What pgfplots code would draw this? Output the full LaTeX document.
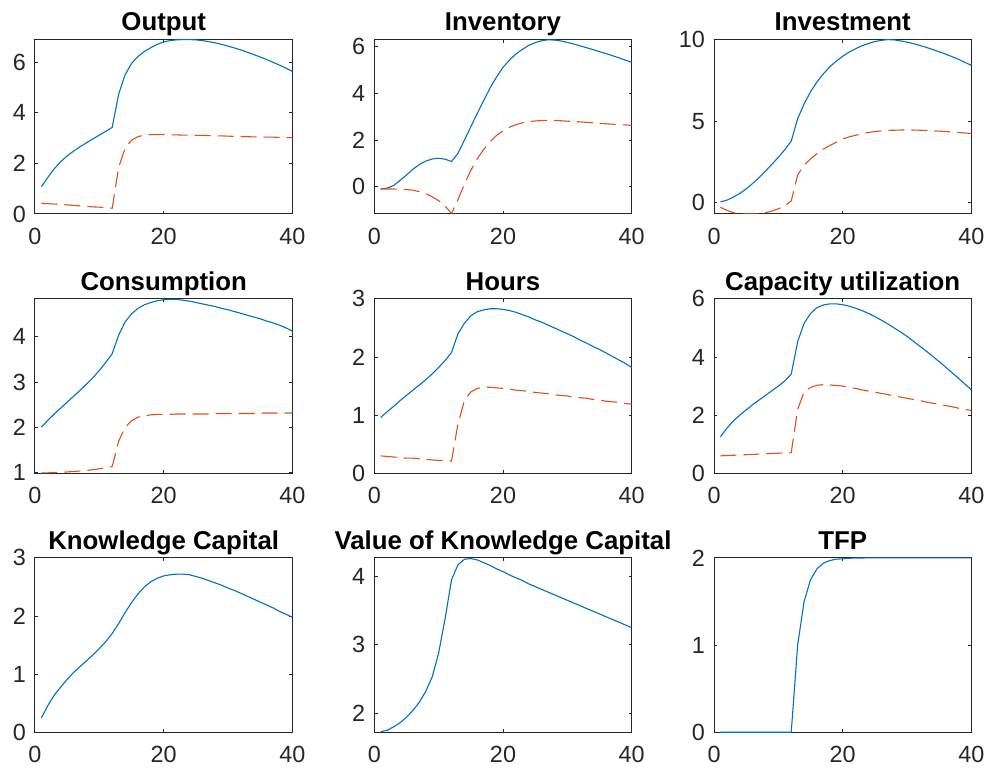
\documentclass[border=0pt]{standalone}
\usepackage{fontspec}
\setmainfont{Liberation Sans}
\usepackage{pgfplots}
\pgfplotsset{compat=1.18}
\definecolor{mblue}{rgb}{0,0.447,0.741}
\definecolor{mred}{rgb}{0.85,0.325,0.098}
\pgfplotsset{
  myax/.style={
    scale only axis, width=128.7pt, height=87.2pt, anchor=south west,
    xmin=0, xmax=40, xtick={0,20,40}, tick align=inside,
    axis line style={black!85, line width=0.5pt},
    tick style={black!85, line width=0.5pt},
    major tick length=1.6pt, minor tick num=0,
    ticklabel style={font=\fontsize{11.7}{13}\selectfont, text=black!85},
    xticklabel style={yshift=-3.5pt},
    yticklabel style={xshift=-1pt},
    title style={font=\bfseries\fontsize{12.9}{15}\selectfont, anchor=base, at={(0.5,1)}, yshift=-1.7pt},
    /pgf/number format/assume math mode=true,
    scaled y ticks=false,
  },
  bl/.style={mblue, line width=0.55pt, no marks},
  rd/.style={mred, line width=0.55pt, no marks, dash pattern=on 8pt off 3.5pt},
}
\begin{document}
\begin{tikzpicture}
\path[use as bounding box] (0,0) rectangle (494.5pt,387.5pt);
% Output
\begin{axis}[myax, at={(17.5pt,280.5pt)}, title={Output}, ymin=0, ymax=6.9, ytick={0,2,4,6}]
\addplot[bl] coordinates {(1,1.08)(2,1.45)(3,1.79)(4,2.07)(5,2.3)(6,2.49)(7,2.66)(8,2.82)(9,2.97)(10,3.12)(11,3.27)(12,3.43)(13,4.74)(14,5.5)(15,5.96)(16,6.23)(17,6.43)(18,6.58)(19,6.71)(20,6.81)(21,6.86)(22,6.89)(23,6.9)(24,6.9)(25,6.89)(26,6.86)(27,6.82)(28,6.77)(29,6.71)(30,6.64)(31,6.57)(32,6.49)(33,6.40)(34,6.31)(35,6.21)(36,6.11)(37,6.00)(38,5.89)(39,5.77)(40,5.64)};
\addplot[rd] coordinates {(1,0.42)(2,0.41)(3,0.39)(4,0.38)(5,0.36)(6,0.34)(7,0.32)(8,0.30)(9,0.28)(10,0.27)(11,0.25)(12,0.23)(13,1.85)(14,2.6)(15,2.92)(16,3.06)(17,3.12)(18,3.14)(19,3.14)(20,3.14)(21,3.13)(22,3.13)(23,3.12)(24,3.12)(25,3.11)(26,3.11)(27,3.1)(28,3.09)(29,3.09)(30,3.08)(31,3.07)(32,3.07)(33,3.06)(34,3.05)(35,3.05)(36,3.04)(37,3.04)(38,3.03)(39,3.02)(40,3.02)};
\end{axis}
% Inventory
\begin{axis}[myax, at={(187.15pt,280.5pt)}, title={Inventory}, ymin=-1.17, ymax=6.31, ytick={0,2,4,6}]
\addplot[bl] coordinates {(1,-0.1)(2,-0.06)(3,0.05)(4,0.27)(5,0.5)(6,0.75)(7,0.95)(8,1.1)(9,1.19)(10,1.22)(11,1.18)(12,1.08)(13,1.43)(14,2.0)(15,2.57)(16,3.14)(17,3.7)(18,4.24)(19,4.71)(20,5.12)(21,5.43)(22,5.69)(23,5.89)(24,6.06)(25,6.18)(26,6.26)(27,6.3)(28,6.29)(29,6.25)(30,6.19)(31,6.12)(32,6.04)(33,5.96)(34,5.88)(35,5.79)(36,5.71)(37,5.62)(38,5.53)(39,5.43)(40,5.33)};
\addplot[rd] coordinates {(1,-0.1)(2,-0.1)(3,-0.1)(4,-0.11)(5,-0.12)(6,-0.15)(7,-0.21)(8,-0.3)(9,-0.43)(10,-0.6)(11,-0.83)(12,-1.15)(13,-0.55)(14,0.1)(15,0.7)(16,1.2)(17,1.6)(18,1.93)(19,2.2)(20,2.4)(21,2.55)(22,2.66)(23,2.74)(24,2.79)(25,2.82)(26,2.84)(27,2.84)(28,2.84)(29,2.83)(30,2.81)(31,2.8)(32,2.78)(33,2.76)(34,2.74)(35,2.72)(36,2.7)(37,2.68)(38,2.66)(39,2.65)(40,2.63)};
\end{axis}
% Investment
\begin{axis}[myax, at={(357pt,280.5pt)}, title={Investment}, ymin=-0.70, ymax=10.0, ytick={0,5,10}]
\addplot[bl] coordinates {(1,0.04)(2,0.15)(3,0.33)(4,0.56)(5,0.84)(6,1.17)(7,1.53)(8,1.93)(9,2.35)(10,2.78)(11,3.25)(12,3.77)(13,5.15)(14,6.05)(15,6.8)(16,7.4)(17,7.9)(18,8.33)(19,8.68)(20,8.98)(21,9.23)(22,9.44)(23,9.62)(24,9.76)(25,9.88)(26,9.95)(27,10.0)(28,9.98)(29,9.92)(30,9.84)(31,9.75)(32,9.64)(33,9.52)(34,9.39)(35,9.25)(36,9.11)(37,8.95)(38,8.79)(39,8.6)(40,8.42)};
\addplot[rd] coordinates {(1,-0.29)(2,-0.48)(3,-0.62)(4,-0.69)(5,-0.70)(6,-0.70)(7,-0.69)(8,-0.62)(9,-0.52)(10,-0.38)(11,-0.2)(12,0.1)(13,1.7)(14,2.3)(15,2.68)(16,3.0)(17,3.28)(18,3.5)(19,3.7)(20,3.9)(21,4.03)(22,4.13)(23,4.22)(24,4.3)(25,4.36)(26,4.4)(27,4.43)(28,4.44)(29,4.45)(30,4.45)(31,4.45)(32,4.44)(33,4.42)(34,4.4)(35,4.38)(36,4.36)(37,4.33)(38,4.3)(39,4.27)(40,4.24)};
\end{axis}
% Consumption
\begin{axis}[myax, at={(17.5pt,150.85pt)}, title={Consumption}, ymin=0.99, ymax=4.84, ytick={1,2,3,4}]
\addplot[bl] coordinates {(1,2.01)(2,2.16)(3,2.30)(4,2.43)(5,2.56)(6,2.69)(7,2.82)(8,2.96)(9,3.1)(10,3.26)(11,3.44)(12,3.63)(13,4.04)(14,4.33)(15,4.51)(16,4.63)(17,4.71)(18,4.76)(19,4.80)(20,4.82)(21,4.83)(22,4.83)(23,4.81)(24,4.79)(25,4.76)(26,4.73)(27,4.7)(28,4.67)(29,4.63)(30,4.6)(31,4.56)(32,4.52)(33,4.48)(34,4.44)(35,4.4)(36,4.35)(37,4.31)(38,4.26)(39,4.2)(40,4.13)};
\addplot[rd] coordinates {(1,1.0)(2,1.0)(3,1.01)(4,1.01)(5,1.02)(6,1.03)(7,1.04)(8,1.05)(9,1.07)(10,1.09)(11,1.11)(12,1.14)(13,1.7)(14,2.0)(15,2.15)(16,2.23)(17,2.26)(18,2.28)(19,2.29)(20,2.29)(21,2.29)(22,2.30)(23,2.30)(24,2.30)(25,2.30)(26,2.30)(27,2.30)(28,2.31)(29,2.31)(30,2.31)(31,2.31)(32,2.31)(33,2.31)(34,2.31)(35,2.32)(36,2.32)(37,2.32)(38,2.32)(39,2.32)(40,2.32)};
\end{axis}
% Hours
\begin{axis}[myax, at={(187.15pt,150.85pt)}, title={Hours}, ymin=0, ymax=3, ytick={0,1,2,3}]
\addplot[bl] coordinates {(1,0.96)(2,1.06)(3,1.15)(4,1.25)(5,1.34)(6,1.43)(7,1.52)(8,1.61)(9,1.71)(10,1.82)(11,1.94)(12,2.08)(13,2.4)(14,2.58)(15,2.71)(16,2.78)(17,2.81)(18,2.83)(19,2.83)(20,2.82)(21,2.8)(22,2.77)(23,2.73)(24,2.69)(25,2.64)(26,2.6)(27,2.55)(28,2.5)(29,2.45)(30,2.4)(31,2.35)(32,2.29)(33,2.24)(34,2.18)(35,2.13)(36,2.07)(37,2.01)(38,1.95)(39,1.89)(40,1.82)};
\addplot[rd] coordinates {(1,0.30)(2,0.29)(3,0.28)(4,0.27)(5,0.26)(6,0.26)(7,0.25)(8,0.24)(9,0.23)(10,0.22)(11,0.22)(12,0.21)(13,0.85)(14,1.25)(15,1.4)(16,1.46)(17,1.48)(18,1.48)(19,1.47)(20,1.46)(21,1.45)(22,1.43)(23,1.42)(24,1.41)(25,1.39)(26,1.38)(27,1.37)(28,1.35)(29,1.34)(30,1.33)(31,1.31)(32,1.3)(33,1.29)(34,1.27)(35,1.26)(36,1.24)(37,1.23)(38,1.22)(39,1.2)(40,1.19)};
\end{axis}
% Capacity utilization
\begin{axis}[myax, at={(357pt,150.85pt)}, title={Capacity utilization}, ymin=0, ymax=6, ytick={0,2,4,6}]
\addplot[bl] coordinates {(1,1.26)(2,1.55)(3,1.8)(4,2.0)(5,2.18)(6,2.36)(7,2.52)(8,2.68)(9,2.84)(10,3.0)(11,3.18)(12,3.41)(13,4.53)(14,5.16)(15,5.5)(16,5.7)(17,5.79)(18,5.83)(19,5.83)(20,5.8)(21,5.75)(22,5.68)(23,5.6)(24,5.5)(25,5.39)(26,5.27)(27,5.14)(28,5.0)(29,4.86)(30,4.71)(31,4.54)(32,4.37)(33,4.2)(34,4.02)(35,3.84)(36,3.65)(37,3.46)(38,3.27)(39,3.07)(40,2.87)};
\addplot[rd] coordinates {(1,0.60)(2,0.61)(3,0.62)(4,0.63)(5,0.64)(6,0.65)(7,0.66)(8,0.67)(9,0.68)(10,0.69)(11,0.70)(12,0.71)(13,2.2)(14,2.8)(15,2.95)(16,3.03)(17,3.05)(18,3.04)(19,3.02)(20,3.0)(21,2.96)(22,2.92)(23,2.87)(24,2.83)(25,2.79)(26,2.75)(27,2.71)(28,2.66)(29,2.62)(30,2.58)(31,2.54)(32,2.5)(33,2.45)(34,2.41)(35,2.37)(36,2.33)(37,2.29)(38,2.24)(39,2.2)(40,2.16)};
\end{axis}
% Knowledge Capital
\begin{axis}[myax, at={(17.5pt,21.35pt)}, title={Knowledge Capital}, ymin=0, ymax=3, ytick={0,1,2,3}]
\addplot[bl] coordinates {(1,0.25)(2,0.46)(3,0.64)(4,0.78)(5,0.91)(6,1.03)(7,1.13)(8,1.23)(9,1.33)(10,1.44)(11,1.56)(12,1.7)(13,1.87)(14,2.06)(15,2.23)(16,2.38)(17,2.5)(18,2.59)(19,2.65)(20,2.69)(21,2.71)(22,2.72)(23,2.72)(24,2.71)(25,2.68)(26,2.65)(27,2.61)(28,2.57)(29,2.53)(30,2.48)(31,2.44)(32,2.39)(33,2.34)(34,2.29)(35,2.24)(36,2.19)(37,2.14)(38,2.08)(39,2.03)(40,1.98)};
\end{axis}
% Value of Knowledge Capital
\begin{axis}[myax, at={(187.15pt,21.35pt)}, title={Value of Knowledge Capital}, ymin=1.72, ymax=4.27, ytick={2,3,4}]
\addplot[bl] coordinates {(1,1.73)(2,1.75)(3,1.8)(4,1.86)(5,1.94)(6,2.04)(7,2.16)(8,2.32)(9,2.53)(10,2.88)(11,3.38)(12,3.95)(13,4.17)(14,4.25)(15,4.26)(16,4.24)(17,4.2)(18,4.16)(19,4.11)(20,4.07)(21,4.02)(22,3.98)(23,3.94)(24,3.89)(25,3.85)(26,3.81)(27,3.77)(28,3.73)(29,3.69)(30,3.65)(31,3.61)(32,3.57)(33,3.53)(34,3.49)(35,3.45)(36,3.41)(37,3.37)(38,3.33)(39,3.29)(40,3.25)};
\end{axis}
% TFP
\begin{axis}[myax, at={(357pt,21.35pt)}, title={TFP}, ymin=0, ymax=2, ytick={0,1,2}]
\addplot[bl] coordinates {(1,0)(2,0)(3,0)(4,0)(5,0)(6,0)(7,0)(8,0)(9,0)(10,0)(11,0)(12,0)(13,1.0)(14,1.5)(15,1.75)(16,1.875)(17,1.94)(18,1.97)(19,1.985)(20,1.99)(21,1.996)(22,1.998)(23,1.999)(24,2)(25,2)(26,2)(27,2)(28,2)(29,2)(30,2)(31,2)(32,2)(33,2)(34,2)(35,2)(36,2)(37,2)(38,2)(39,2)(40,2)};
\end{axis}
\end{tikzpicture}
\end{document}
